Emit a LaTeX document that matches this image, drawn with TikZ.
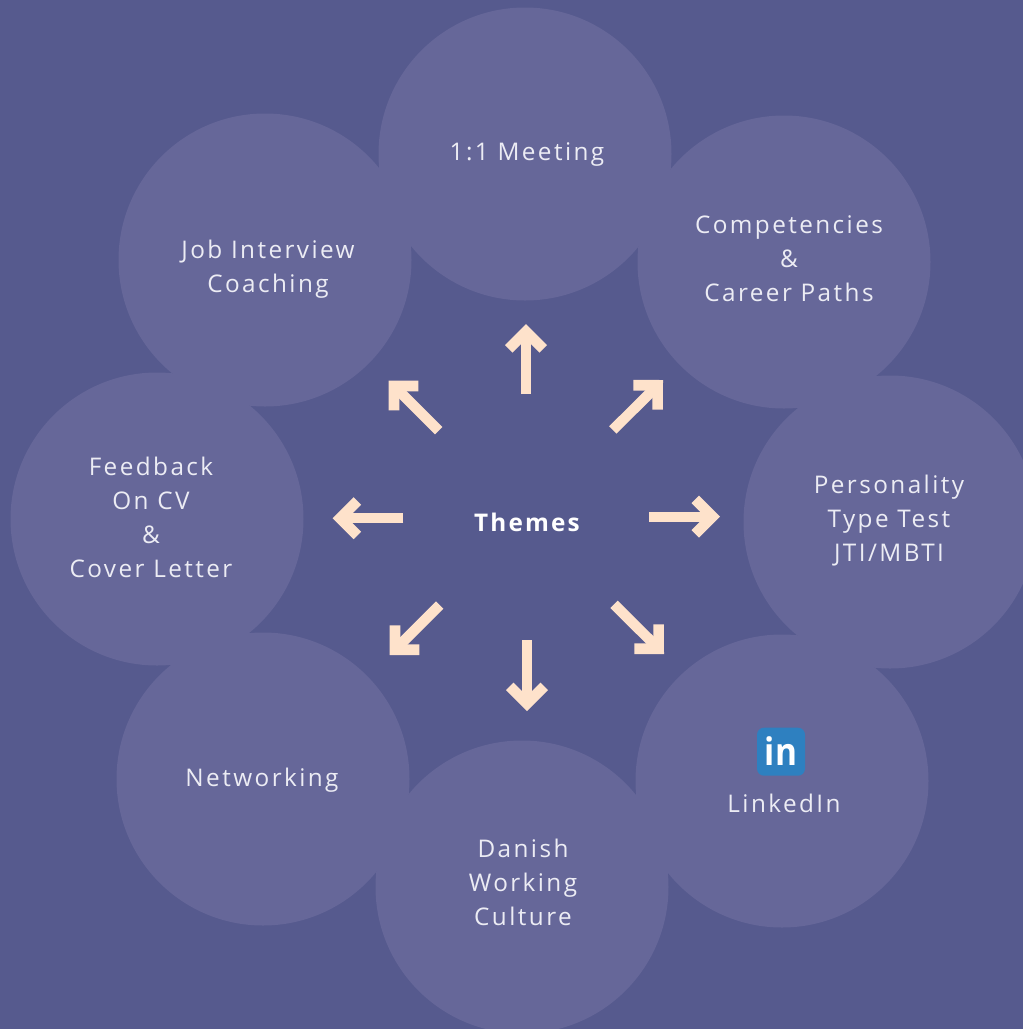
\documentclass[tikz,border=0pt]{standalone}
\usepackage{fontspec}
\setmainfont{Open Sans}
\newfontface\labelface{Open Sans}[LetterSpace=10]
\newfontface\themeface{Open Sans Bold}[LetterSpace=9]
\newfontface\logoface{Open Sans Bold}
\definecolor{bgblue}{HTML}{565A8E}
\definecolor{discblue}{HTML}{666799}
\definecolor{cream}{HTML}{FEE2CB}
\definecolor{labelwhite}{HTML}{ECECF4}
\definecolor{linkedinblue}{HTML}{2E80C0}
\pgfdeclarearrow{
  name=ThemeHead,
  setup code={
    \pgfarrowssettipend{0pt}
    \pgfarrowssetlineend{-14pt}
    \pgfarrowssetvisualbackend{-28pt}
    \pgfarrowssetbackend{-28pt}
    \pgfarrowshullpoint{0pt}{0pt}
    \pgfarrowshullpoint{-21pt}{21pt}
    \pgfarrowshullpoint{-21pt}{-21pt}
    \pgfarrowshullpoint{-28pt}{14pt}
    \pgfarrowshullpoint{-28pt}{-14pt}
  },
  drawing code={
    \pgfsetlinewidth{0pt}
    \pgfpathmoveto{\pgfpoint{0pt}{0pt}}
    \pgfpathlineto{\pgfpoint{-21pt}{21pt}}
    \pgfpathlineto{\pgfpoint{-28.5pt}{13.5pt}}
    \pgfpathlineto{\pgfpoint{-19pt}{4pt}}
    \pgfpathlineto{\pgfpoint{-19pt}{-4pt}}
    \pgfpathlineto{\pgfpoint{-28.5pt}{-13.5pt}}
    \pgfpathlineto{\pgfpoint{-21pt}{-21pt}}
    \pgfpathclose
    \pgfusepathqfill
  }
}
\tikzset{
  disc/.style={circle,fill=discblue,draw=none,minimum size=293pt,inner sep=0pt},
  caption/.style={text=labelwhite,align=center,inner sep=0pt,font=\labelface\fontsize{24.3}{34}\selectfont},
  themelabel/.style={text=white,inner sep=0pt,font=\themeface\fontsize{24.3}{30}\selectfont},
  themearrow/.style={draw=cream,line width=10.4pt,-{ThemeHead}},
  logobox/.style={fill=linkedinblue,rounded corners=7pt,minimum width=48pt,minimum height=48pt,inner sep=0pt},
  logotext/.style={text=white,inner sep=0pt,xscale=0.88,font=\logoface\fontsize{38}{38}\selectfont}
}
\begin{document}
\begin{tikzpicture}[x=1pt,y=-1pt]
\useasboundingbox (0,0) rectangle (1023,1029);
\fill[bgblue] (0,0) rectangle (1023,1029);
% discs
\node[disc] (dTop) at (525,154) {};
\node[disc] (dTR) at (784,262) {};
\node[disc] (dR) at (890,522) {};
\node[disc] (dBR) at (782,781) {};
\node[disc] (dB) at (522,887) {};
\node[disc] (dBL) at (263,779) {};
\node[disc] (dL) at (157,519) {};
\node[disc] (dTL) at (265,260) {};
% labels
\node[caption] (lTop) at (527,154) {1:1 Meeting};
\node[caption] (lTR) at (789,259) {Competencies\\\&\\Career Paths};
\node[caption] (lR) at (889,521) {Personality\\Type Test\\JTI/MBTI};
\node[caption] (lBR) at (784,803) {LinkedIn};
\node[caption] (lB) at (523,882.5) {Danish\\Working\\Culture};
\node[caption] (lBL) at (262,780) {Networking};
\node[caption] (lL) at (151,517.5) {Feedback\\On CV\\\&\\Cover Letter};
\node[caption] (lTL) at (268,269) {Job Interview\\Coaching};
\node[themelabel] (themes) at (527,522) {Themes};
% logo
\node[logobox] (logo) at (781,751.7) {};
\node[logotext] (logoin) at (781,751) {in};
% arrows
\coordinate (t1) at (526,394);     \coordinate (h1) at (526,324);
\coordinate (t2) at (612.8,430);   \coordinate (h2) at (663,380);
\coordinate (t3) at (649.3,516.7); \coordinate (h3) at (720,516.7);
\coordinate (t4) at (614,604.3);   \coordinate (h4) at (664,654);
\coordinate (t5) at (527,640.3);   \coordinate (h5) at (527,711);
\coordinate (t6) at (439.7,605);   \coordinate (h6) at (389.7,655);
\coordinate (t7) at (403.3,518.2); \coordinate (h7) at (332.7,518.2);
\coordinate (t8) at (438.7,430.7); \coordinate (h8) at (388.7,380.7);
\foreach \i in {1,...,8}{\draw[themearrow] (t\i) -- (h\i);}
\end{tikzpicture}
\end{document}
